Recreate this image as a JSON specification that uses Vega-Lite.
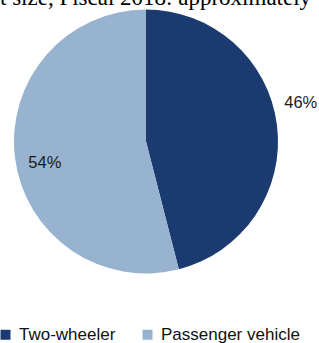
{
  "$schema": "https://vega.github.io/schema/vega-lite/v6.json",
  "width": 292,
  "height": 283,
  "autosize": "none",
  "padding": {"left": 0, "top": 0, "right": 27, "bottom": 60},
  "background": "white",
  "title": {
    "text": "t size, Fiscal 2018: approximately",
    "anchor": "start",
    "frame": "group",
    "font": "Liberation Serif",
    "fontSize": 23,
    "fontWeight": "normal",
    "color": "#000000",
    "baseline": "alphabetic",
    "offset": -28
  },
  "data": {
    "values": [
      {"category": "Two-wheeler", "share": 46, "label": "46%"},
      {"category": "Passenger vehicle", "share": 54, "label": "54%"}
    ]
  },
  "encoding": {
    "theta": {"field": "share", "type": "quantitative", "stack": true},
    "order": {"field": "category", "sort": "descending"}
  },
  "layer": [
    {
      "mark": {"type": "arc", "radius": 132, "stroke": null},
      "encoding": {
        "color": {
          "field": "category",
          "type": "nominal",
          "scale": {"domain": ["Two-wheeler", "Passenger vehicle"], "range": ["#1B3B70", "#98B3CF"]},
          "legend": {
            "title": null,
            "orient": "none",
            "legendX": -3,
            "legendY": 326,
            "direction": "horizontal",
            "symbolType": "square",
            "symbolSize": 100,
            "symbolStrokeWidth": 0,
            "labelFont": "Liberation Sans",
            "labelFontSize": 17,
            "labelColor": "#111111",
            "labelOffset": 5,
            "columnPadding": 23,
            "padding": 0
          }
        }
      }
    },
    {
      "mark": {"type": "text", "radius": 156, "dy": -19, "font": "Liberation Sans", "fontSize": 16.5, "color": "#1a1a1a"},
      "encoding": {
        "text": {"condition": {"test": "datum.category === 'Two-wheeler'", "field": "label"}, "value": ""}
      }
    },
    {
      "mark": {"type": "text", "radius": 102, "dy": 9, "font": "Liberation Sans", "fontSize": 16.5, "color": "#1a1a1a"},
      "encoding": {
        "text": {"condition": {"test": "datum.category === 'Passenger vehicle'", "field": "label"}, "value": ""}
      }
    }
  ],
  "config": {"view": {"stroke": null}}
}
